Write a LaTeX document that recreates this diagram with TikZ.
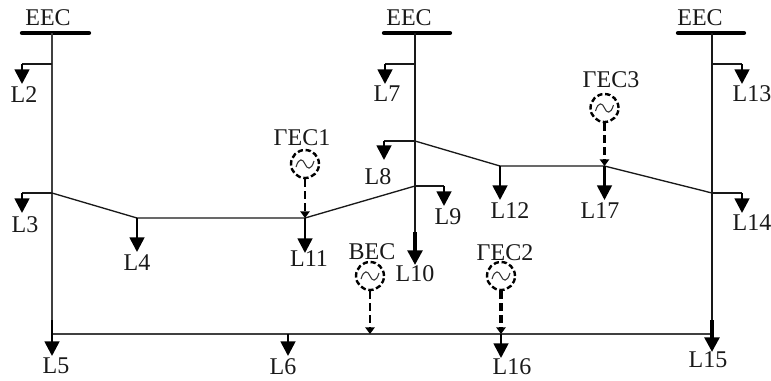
\documentclass[tikz,border=0pt]{standalone}
\usepackage{fontspec}
\setmainfont{Liberation Serif}
\usetikzlibrary{arrows.meta,calc}
\tikzset{
 x=0.75pt,y=-0.75pt,
 lbl/.style={font=\fontsize{18}{20}\selectfont,inner sep=0pt,text=black!90},
 wire/.style={line width=1pt,draw=black!90},
 trunk/.style={line width=1.2pt,draw=black!75},
 bar/.style={line width=3.2pt,line cap=round},
 load/.style={line width=2pt,-{Triangle[length=11pt,width=11pt]}},
 feed/.style={line width=1.8pt,dash pattern=on 6pt off 3pt,-{Triangle[length=5pt,width=7pt]}},
 gen/.style={circle,draw,line width=1.8pt,dash pattern=on 4pt off 2pt,minimum size=21pt,inner sep=0pt},
 wavy/.style={line width=.8pt,draw=black!80}
}
\newcommand{\wave}[1]{\draw[wavy] ($(#1)+(-9,3)$) .. controls ($(#1)+(-6,-7)$) and ($(#1)+(-2,-5)$) .. ($(#1)+(0,0)$) .. controls ($(#1)+(2,5)$) and ($(#1)+(6,7)$) .. ($(#1)+(9,-3)$);}
\begin{document}
\begin{tikzpicture}
\useasboundingbox (0,0) rectangle (771,380);
\foreach \n/\x/\y in {
 a/52/33,b/52/334,c/415/33,d/415/232,e/712/33,f/712/334,
 j2/52/64,k2/22/64,j3/52/193,k3/22/193,
 j4/137/218,j11/305/218,j9/415/186,k9/444/186,
 j7/415/64,k7/385/64,j8/415/141,k8/384/141,
 j12/500/166,j17/604.5/166,j13/712/64,k13/742/64,j14/712/193,k14/742/193,
 j6/288/334,j16/501/334,jb/370/334,
 t2/22/84,t3/22/213,t4/137/252,t11/305/253,t7/385/84,t8/384/160,t9/444/206,t10/415/265,
 t12/500/200,t17/604.5/200,t13/742/84,t14/742/213,t5/52/356,t6/288/356,t16/501/358,t15/712/352,
 s5/52/320,s15/712/320,
 bl1/22/33,br1/89/33,bl2/384/33,br2/450/33,bl3/678/33,br3/744/33}
 {\coordinate (\n) at (\x,\y);}
\draw[bar] (bl1) -- (br1);
\draw[bar] (bl2) -- (br2);
\draw[bar] (bl3) -- (br3);
\draw[trunk] (a) -- (b) -- (f);
\draw[wire] (f) -- (e);
\draw[wire] (c) -- (d);
\draw[wire] (j3) -- (j4) -- (j11) -- (j9);
\draw[wire] (j8) -- (j12) -- (j17) -- (j14);
\draw[wire] (j2) -- (k2);
\draw[wire] (j3) -- (k3);
\draw[wire] (j7) -- (k7);
\draw[wire] (j8) -- (k8);
\draw[wire] (j9) -- (k9);
\draw[wire] (j13) -- (k13);
\draw[wire] (j14) -- (k14);
\draw[load] (k2) -- (t2);
\draw[load] (k3) -- (t3);
\draw[load] (j4) -- (t4);
\draw[load] (j11) -- (t11);
\draw[load] (k7) -- (t7);
\draw[load] (k8) -- (t8);
\draw[load] (k9) -- (t9);
\draw[load,line width=2.6pt] (d) -- (t10);
\draw[load] (j12) -- (t12);
\draw[load] (j17) -- (t17);
\draw[load] (k13) -- (t13);
\draw[load] (k14) -- (t14);
\draw[load] (s5) -- (t5);
\draw[load] (j6) -- (t6);
\draw[load] (j16) -- (t16);
\draw[load,line width=2.6pt] (s15) -- (t15);
\node[gen] (g1) at (305,164) {};
\node[gen] (g2) at (501,276) {};
\node[gen] (g3) at (604.5,108) {};
\node[gen] (gb) at (370,276) {};
\wave{g1}\wave{g2}\wave{g3}\wave{gb}
\draw[feed] (g1) -- (j11);
\draw[feed,line width=2.6pt] (g2) -- (j16);
\draw[feed] (g3) -- (j17);
\draw[feed] (gb) -- (jb);
\node[lbl] (eec1) at (48,18) {EEC};
\node[lbl] (eec2) at (409,18) {EEC};
\node[lbl] (eec3) at (700,18) {EEC};
\node[lbl] (n2) at (24,95) {L2};
\node[lbl] (n3) at (25,225) {L3};
\node[lbl] (n4) at (137,263) {L4};
\node[lbl] (n5) at (56,366) {L5};
\node[lbl] (n6) at (283,367) {L6};
\node[lbl] (n7) at (387,94) {L7};
\node[lbl] (n8) at (378,177) {L8};
\node[lbl] (n9) at (448,217) {L9};
\node[lbl] (n10) at (415,274) {L10};
\node[lbl] (n11) at (309,259) {L11};
\node[lbl] (n12) at (510,211) {L12};
\node[lbl] (n13) at (752,94) {L13};
\node[lbl] (n14) at (752,223) {L14};
\node[lbl] (n15) at (708,360) {L15};
\node[lbl] (n16) at (512,367) {L16};
\node[lbl] (n17) at (600,211) {L17};
\node[lbl] (ng1) at (302,138) {ΓEC1};
\node[lbl] (ng2) at (505,253) {ΓEC2};
\node[lbl] (ng3) at (611,80) {ΓEC3};
\node[lbl] (nb) at (372,252) {BEC};
\end{tikzpicture}
\end{document}
